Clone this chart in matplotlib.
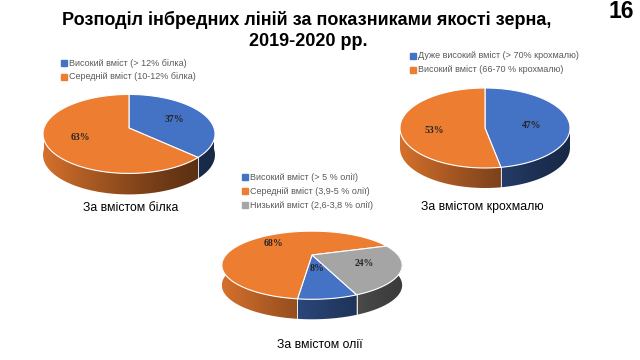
'''plot.py  Three 3D-looking pie charts: inbred lines by grain quality, 2019-2020.'''

import numpy as np
import matplotlib
matplotlib.use('Agg')
import matplotlib.pyplot as plt
from matplotlib.patches import Polygon
from matplotlib.colors import to_rgb

plt.rcParams['font.family'] = ['Liberation Sans', 'DejaVu Sans']

# data
protein_labels = ['Високий вміст (> 12% білка)', 'Середній вміст (10-12% білка)']
protein_values = [37, 63]
starch_labels = ['Дуже високий вміст (> 70% крохмалю)', 'Високий вміст (66-70 % крохмалю)']
starch_values = [47, 53]
oil_labels = ['Високий вміст (> 5 % олії)', 'Середній вміст (3,9-5 % олії)',
              'Низький вміст (2,6-3,8 % олії)']
oil_values = [8, 68, 24]

BLUE, ORANGE, GRAY = '#4472C4', '#ED7D31', '#A5A5A5'


def pie3d(ax, values, colors, cx, cy, rx, ry, depth, start, rlab, k=0.0):
  '''draw a tilted pie; angles clockwise from 12 o'clock, k = perspective'''
  fr = np.array(values, float) / sum(values)
  bounds = start + 360 * np.concatenate([[0], np.cumsum(fr)])

  def xy(phi, r=1.0):
    a = np.radians(phi)
    X, Z = r * np.sin(a), r * np.cos(a)
    s = 1 / (1 + k * Z)
    return cx + rx * X * s, cy - ry * Z * s

  # side wall: front half (90..270 deg) of every wedge, shaded left -> right
  u = np.linspace(-1, 1, 200)
  shade = 0.36 + 0.54 * ((1 - u) / 2) ** 1.3
  ext = rx / np.sqrt(1 - k * k)
  for i, col in enumerate(colors):
    grad = np.clip(np.array(to_rgb(col))[None, None, :] * shade[None, :, None], 0, 1)
    for off in (-360, 0, 360):
      a0 = max(bounds[i], 90 + off)
      a1 = min(bounds[i + 1], 270 + off)
      if a1 <= a0:
        continue
      phis = np.linspace(a0, a1, 100)
      px, py = xy(phis)
      poly = Polygon(np.c_[np.r_[px, px[::-1]], np.r_[py, py[::-1] + depth]],
                     closed=True, fc='none', ec='none')
      ax.add_patch(poly)
      im = ax.imshow(grad, extent=[cx - ext, cx + ext, cy + 2 * ry + depth, cy - 2 * ry],
                     aspect='auto', interpolation='bilinear', zorder=1)
      im.set_clip_path(poly)
      if a0 == bounds[i]:
        ax.plot([px[0], px[0]], [py[0], py[0] + depth], color='white', lw=0.6, zorder=1.5)

  # top face
  for i, col in enumerate(colors):
    phis = np.linspace(bounds[i], bounds[i + 1], 150)
    px, py = xy(phis)
    ax.fill(np.r_[cx, px], np.r_[cy, py], color=col, ec='white', lw=0.8, zorder=2)

  # percentage labels
  for i, v in enumerate(values):
    mx, my = xy((bounds[i] + bounds[i + 1]) / 2, rlab[i])
    ax.text(mx, my, f'{v}%', ha='center', va='center', fontsize=7,
            fontweight='bold', family='Liberation Serif', color='#262626', zorder=3)


def legend(ax, x, y, labels, colors, step=14):
  for i, (lab, col) in enumerate(zip(labels, colors)):
    ax.plot(x, y + i * step, marker='s', ms=3.8, color=col, ls='none')
    ax.text(x + 5, y + i * step, lab, ha='left', va='center', fontsize=6.5, color='#595959')


fig = plt.figure(figsize=(6.4, 3.6), dpi=100)
ax = fig.add_axes([0, 0, 1, 1])

ax.text(307, 20, 'Розподіл інбредних ліній за показниками якості зерна,',
        ha='center', va='center', fontsize=13, fontweight='bold')
ax.text(308, 42, '2019-2020 рр.', ha='center', va='center', fontsize=13, fontweight='bold')
ax.text(621, 11, '16', ha='center', va='center', fontsize=16.5, fontweight='bold')

pie3d(ax, protein_values, [BLUE, ORANGE], 129, 128, 85, 38.6, 21, 0, [0.6, 0.6], k=0.15)
legend(ax, 64, 63, protein_labels, [BLUE, ORANGE], step=13.5)
ax.text(131, 208, 'За вмістом білка', ha='center', va='center', fontsize=8.8)

pie3d(ax, starch_values, [BLUE, ORANGE], 485, 128, 85, 40, 20, 0, [0.55, 0.6])
legend(ax, 413, 56, starch_labels, [BLUE, ORANGE], step=13.5)
ax.text(482, 207, 'За вмістом крохмалю', ha='center', va='center', fontsize=8.8)

pie3d(ax, oil_values, [BLUE, ORANGE, GRAY], 312, 255, 86, 31, 20, 158, [0.4, 0.65, 0.62], k=0.3)
legend(ax, 245, 177, oil_labels, [BLUE, ORANGE, GRAY], step=14)
ax.text(320, 345, 'За вмістом олії', ha='center', va='center', fontsize=8.8)

ax.set_xlim(0, 640)
ax.set_ylim(360, 0)
ax.axis('off')

fig.savefig('out.png', dpi=100)
